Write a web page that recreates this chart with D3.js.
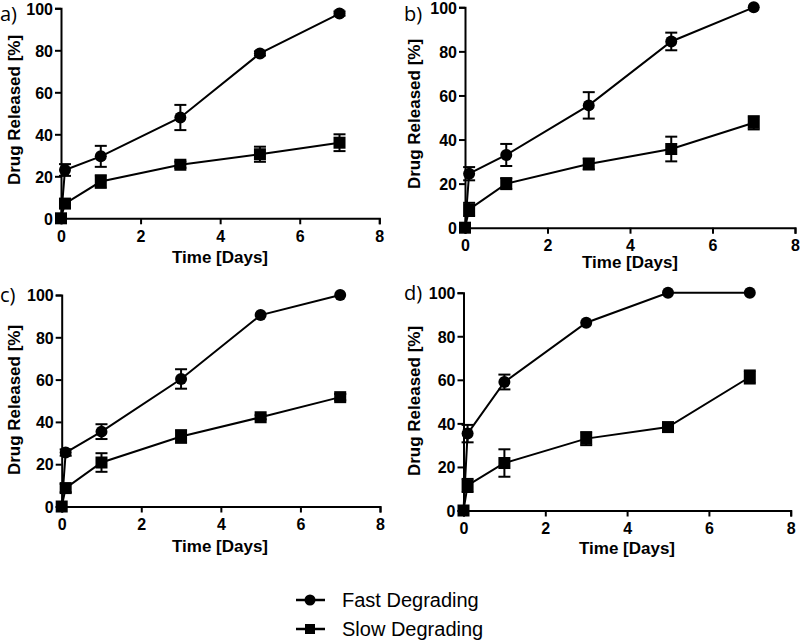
<!DOCTYPE html>
<html><head><meta charset="utf-8">
<script src="https://cdn.jsdelivr.net/npm/d3@7"></script>
<style>
body{margin:0;background:#fff;}
svg{display:block;}
.tick text{font-family:"Liberation Sans",Arial,sans-serif;font-weight:bold;font-size:16px;fill:#000;}
</style></head>
<body>
<svg id="chart" width="800" height="640"></svg>
<script>
const days = [0, 0.1, 1, 3, 5, 7];
const xTicks = [0, 2, 4, 6, 8];
const yTicks = [0, 20, 40, 60, 80, 100];
const panelLabels = ["a)", "b)", "c)", "d)"];
const seriesNames = ["Fast Degrading", "Slow Degrading"];

const fastA = [0, 23, 29.5, 48, 78.5, 97.5];
const fastAErr = [0, 2.8, 5, 6, 1, 1];
const slowA = [0, 7, 17.5, 25.5, 30.5, 36];
const slowAErr = [0, 2, 3, 1.5, 3.6, 4];

const fastB = [0, 24.5, 33, 55.5, 84.5, 100];
const fastBErr = [0, 3, 5, 6, 4, 0];
const slowB = [0, 8.3, 20, 28.9, 35.7, 47.6];
const slowBErr = [0, 3, 2.5, 2.5, 5.6, 3];

const fastC = [0, 25.5, 35.4, 60.3, 90.5, 100];
const fastCErr = [0, 1.5, 3.5, 4.6, 0, 0];
const slowC = [0, 8.7, 20.8, 33.1, 42.2, 51.7];
const slowCErr = [0, 2, 4.4, 3, 1, 1.5];

const fastD = [0, 35.3, 59, 86.2, 100, 100];
const fastDErr = [0, 4, 3.4, 0, 0, 0];
const slowD = [0, 11.5, 21.8, 33, 38.3, 61.3];
const slowDErr = [0, 3, 6.3, 3, 1, 3];

const panels = [
  {label: panelLabels[0], fast: fastA, fastErr: fastAErr, slow: slowA, slowErr: slowAErr,
   x0: 61, x1: 379.3, y0: 218.3, y1: 8.3, lx: 0, ly: 21, ytx: 14, yty: 110, xtx: 220, xty: 263},
  {label: panelLabels[1], fast: fastB, fastErr: fastBErr, slow: slowB, slowErr: slowBErr,
   x0: 465, x1: 795, y0: 227.7, y1: 7.3, lx: 404, ly: 21, ytx: 414, yty: 114, xtx: 630, xty: 268},
  {label: panelLabels[2], fast: fastC, fastErr: fastCErr, slow: slowC, slowErr: slowCErr,
   x0: 61.7, x1: 380, y0: 506.5, y1: 295, lx: 0, ly: 302, ytx: 14, yty: 400, xtx: 220, xty: 552},
  {label: panelLabels[3], fast: fastD, fastErr: fastDErr, slow: slowD, slowErr: slowDErr,
   x0: 463.5, x1: 790.7, y0: 510.5, y1: 292.7, lx: 404, ly: 300, ytx: 414, yty: 401, xtx: 627, xty: 554}
];

const svg = d3.select("#chart");
const font = '"Liberation Sans",Arial,sans-serif';

panels.forEach(p => {
  const x = d3.scaleLinear().domain([0, 8]).range([p.x0, p.x1]);
  const y = d3.scaleLinear().domain([0, 100]).range([p.y0, p.y1]);
  const g = svg.append("g");

  const xa = g.append("g").attr("transform", `translate(0,${p.y0})`)
    .call(d3.axisBottom(x).tickValues(xTicks).tickSize(6).tickPadding(6).tickFormat(d3.format("d")));
  const ya = g.append("g").attr("transform", `translate(${p.x0},0)`)
    .call(d3.axisLeft(y).tickValues(yTicks).tickSize(6).tickPadding(2).tickFormat(d3.format("d")));
  [xa, ya].forEach(a => {
    a.select(".domain").attr("stroke", "#000").attr("stroke-width", 2);
    a.selectAll(".tick line").attr("stroke", "#000").attr("stroke-width", 2);
  });
  ya.selectAll(".tick text").attr("dy", "0.36em");

  const line = d3.line().x((d, i) => x(days[i])).y(d => y(d));
  [["fast", "fastErr", "circle"], ["slow", "slowErr", "square"]].forEach(([k, ek, shape]) => {
    const vals = p[k], errs = p[ek];
    g.append("path").datum(vals).attr("d", line)
      .attr("fill", "none").attr("stroke", "#000").attr("stroke-width", 2);
    vals.forEach((v, i) => {
      const e = errs[i];
      if (e > 0) {
        const cx = x(days[i]);
        g.append("line").attr("x1", cx).attr("x2", cx).attr("y1", y(v - e)).attr("y2", y(v + e))
          .attr("stroke", "#000").attr("stroke-width", 2);
        [v - e, v + e].forEach(c => g.append("line").attr("x1", cx - 6).attr("x2", cx + 6)
          .attr("y1", y(c)).attr("y2", y(c)).attr("stroke", "#000").attr("stroke-width", 2));
      }
    });
    vals.forEach((v, i) => {
      if (shape === "circle") {
        if (i === 0) return;
        g.append("circle").attr("cx", x(days[i])).attr("cy", y(v)).attr("r", 6).attr("fill", "#000");
      } else {
        g.append("rect").attr("x", x(days[i]) - 6).attr("y", y(v) - 6)
          .attr("width", 12).attr("height", 12).attr("fill", "#000");
      }
    });
  });

  g.append("text").attr("x", p.xtx).attr("y", p.xty).attr("text-anchor", "middle")
    .attr("font-family", font).attr("font-weight", "bold").attr("font-size", 17).text("Time [Days]");
  g.append("text").attr("transform", `translate(${p.ytx + 6},${p.yty}) rotate(-90)`)
    .attr("text-anchor", "middle")
    .attr("font-family", font).attr("font-weight", "bold").attr("font-size", 17).text("Drug Released [%]");
  g.append("text").attr("x", p.lx).attr("y", p.ly)
    .attr("font-family", '"Open Sans",sans-serif').attr("font-size", 20).text(p.label);
});

// Legend
const leg = svg.append("g");
[[600, "circle"], [629, "square"]].forEach(([ly, shape], i) => {
  leg.append("line").attr("x1", 296).attr("x2", 325).attr("y1", ly).attr("y2", ly)
    .attr("stroke", "#000").attr("stroke-width", 2.5);
  if (shape === "circle") leg.append("circle").attr("cx", 310).attr("cy", ly).attr("r", 5.5).attr("fill", "#000");
  else leg.append("rect").attr("x", 305).attr("y", ly - 5).attr("width", 10).attr("height", 10).attr("fill", "#000");
  leg.append("text").attr("x", 342).attr("y", ly + 7).attr("font-family", font)
    .attr("font-size", 20).text(seriesNames[i]);
});
</script>
</body></html>
